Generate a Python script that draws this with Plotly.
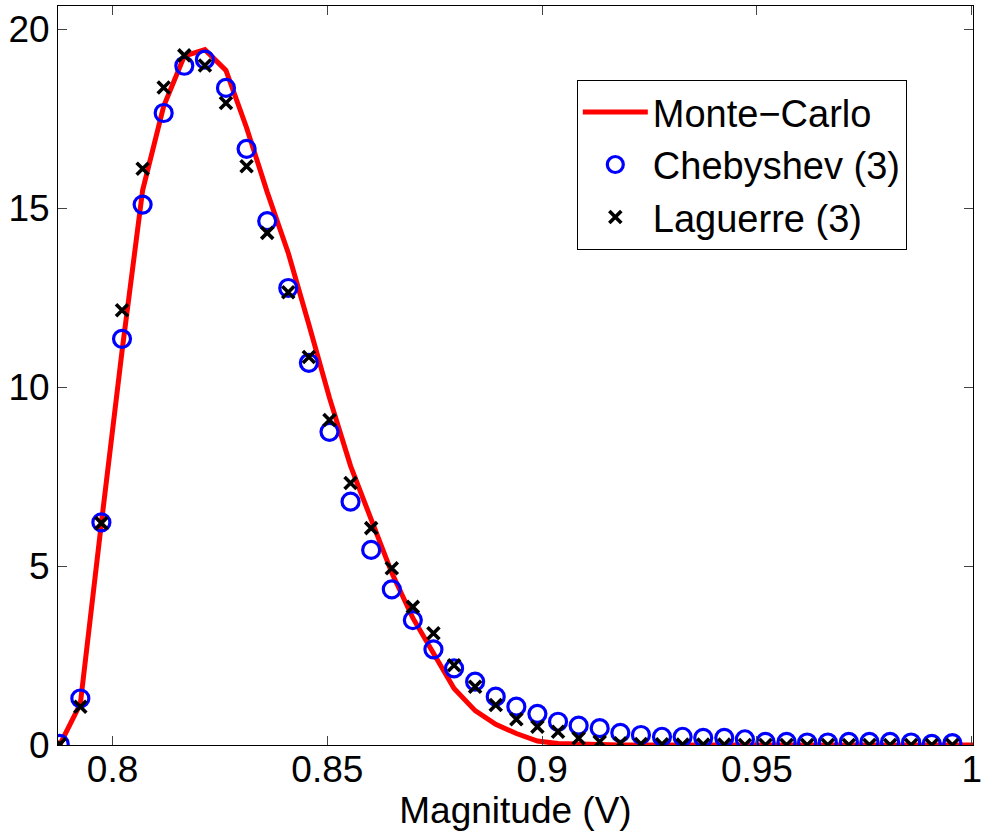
import plotly.graph_objects as go

# Magnitude grid (V) where the expansions are evaluated
magnitude = [0.7877, 0.7925, 0.7974, 0.8022, 0.8070, 0.8119, 0.8167, 0.8215, 0.8264, 0.8312,
             0.8360, 0.8409, 0.8457, 0.8505, 0.8554, 0.8602, 0.8650, 0.8699, 0.8747, 0.8795,
             0.8844, 0.8892, 0.8940, 0.8989, 0.9037, 0.9085, 0.9134, 0.9182, 0.9230, 0.9279,
             0.9327, 0.9375, 0.9424, 0.9472, 0.9520, 0.9569, 0.9617, 0.9665, 0.9714, 0.9762,
             0.9810, 0.9859, 0.9907, 0.9955]
mc_magnitude = magnitude + [1.0004]

monte_carlo = [0.0, 1.15, 6.2, 11.0, 15.5, 17.85, 19.25, 19.43, 18.85, 17.25,
               15.45, 13.75, 11.75, 9.7, 7.8, 6.33, 4.81, 3.55, 2.55, 1.58,
               0.96, 0.58, 0.32, 0.11, 0.04, 0.02, 0.01, 0.0, 0.0, 0.0,
               0.0, 0.0, 0.0, 0.0, 0.0, 0.0, 0.0, 0.0, 0.0, 0.0,
               0.0, 0.0, 0.0, 0.0, 0.0]

chebyshev = [0.03, 1.3, 6.22, 11.35, 15.1, 17.66, 18.98, 19.15, 18.36, 16.66,
             14.64, 12.77, 10.68, 8.75, 6.8, 5.45, 4.35, 3.49, 2.67, 2.14,
             1.77, 1.35, 1.07, 0.87, 0.65, 0.54, 0.47, 0.34, 0.28, 0.23,
             0.23, 0.2, 0.2, 0.16, 0.09, 0.09, 0.07, 0.07, 0.09, 0.09,
             0.09, 0.07, 0.03, 0.05]

laguerre = [0.02, 1.07, 6.2, 12.15, 16.1, 18.37, 19.27, 18.99, 17.94, 16.17,
            14.31, 12.65, 10.84, 9.08, 7.32, 6.06, 4.94, 3.86, 3.12, 2.23,
            1.63, 1.12, 0.72, 0.51, 0.37, 0.19, 0.09, 0.05, 0.03, 0.02,
            0.01, 0.01, 0.01, 0.0, 0.0, 0.0, 0.0, 0.0, 0.0, 0.0,
            0.0, 0.0, 0.0, 0.0]

x_ticks = [0.8, 0.85, 0.9, 0.95, 1.0]
x_ticklabels = ["0.8", "0.85", "0.9", "0.95", "1"]
y_ticks = [0, 5, 10, 15, 20]
y_ticklabels = ["0", "5", "10", "15", "20"]

FONT = "Liberation Sans, Arial, Helvetica, sans-serif"

fig = go.Figure()
fig.add_trace(go.Scatter(
    x=mc_magnitude, y=monte_carlo, mode="lines", name="Monte\u2212Carlo",
    line=dict(color="#FF0000", width=5)))
fig.add_trace(go.Scatter(
    x=magnitude, y=chebyshev, mode="markers", name="Chebyshev (3)",
    marker=dict(symbol="circle-open", size=17, color="#0000FF",
                line=dict(color="#0000FF", width=3.2))))
fig.add_trace(go.Scatter(
    x=magnitude, y=laguerre, mode="markers", name="Laguerre (3)",
    marker=dict(symbol="x-thin-open", size=12, color="#000000",
                line=dict(color="#000000", width=3.6))))

axis_common = dict(
    showline=True, linecolor="black", linewidth=1, mirror="ticks",
    ticks="inside", ticklen=9, tickwidth=1, tickcolor="#444444",
    showgrid=False, zeroline=False, ticklabeloverflow="allow",
    tickfont=dict(family=FONT, size=37, color="black"),
)

fig.update_xaxes(
    range=[0.7873, 1.0003], tickvals=x_ticks, ticktext=x_ticklabels,
    ticklabelstandoff=-8,
    title=dict(text="Magnitude (V)", font=dict(family=FONT, size=37, color="black"),
               standoff=2),
    **axis_common)
fig.update_yaxes(
    range=[0, 20.65], tickvals=y_ticks, ticktext=y_ticklabels,
    **axis_common)

fig.update_layout(
    width=981, height=836,
    margin=dict(l=58, r=8, t=6, b=91, autoexpand=False),
    paper_bgcolor="white", plot_bgcolor="white",
    font=dict(family=FONT, size=37, color="black"),
    showlegend=True,
    legend=dict(
        x=0.567, y=0.90, xanchor="left", yanchor="top",
        bgcolor="white", bordercolor="black", borderwidth=1,
        font=dict(family=FONT, size=38, color="black"),
        itemwidth=65, tracegroupgap=0,
    ),
)

fig.write_html("out.html")
